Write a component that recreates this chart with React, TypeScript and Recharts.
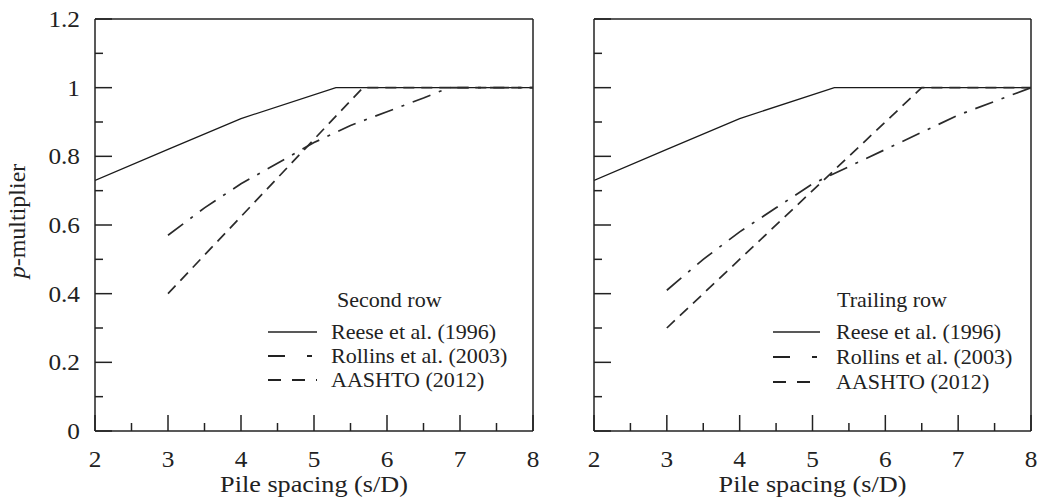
import { LineChart, Line, XAxis, YAxis, ReferenceLine, Legend } from "recharts"

const FONT = '"Liberation Serif", "Times New Roman", serif'
const INK = "#222"
const SX = 1.1

// axis ticks
const xTicks = [2, 2.5, 3, 3.5, 4, 4.5, 5, 5.5, 6, 6.5, 7, 7.5, 8]
const yTicks = [0, 0.1, 0.2, 0.3, 0.4, 0.5, 0.6, 0.7, 0.8, 0.9, 1, 1.1, 1.2]
const yMajor = [0, 0.2, 0.4, 0.6, 0.8, 1, 1.2]

const seriesNames = ["Reese et al. (1996)", "Rollins et al. (2003)", "AASHTO (2012)"]

// second row
const reese2S = [2, 3, 4, 5.3, 8]
const reese2P = [0.73, 0.82, 0.91, 1.0, 1.0]
const rollins2S = [3, 3.5, 4, 4.5, 5, 5.5, 6, 6.5, 6.85, 8]
const rollins2P = [0.57, 0.65, 0.72, 0.78, 0.84, 0.89, 0.93, 0.97, 1.0, 1.0]
const aashto2S = [3, 5.67, 8]
const aashto2P = [0.4, 1.0, 1.0]

// trailing row
const reeseTS = [2, 3, 4, 5.3, 8]
const reeseTP = [0.73, 0.82, 0.91, 1.0, 1.0]
const rollinsTS = [3, 3.5, 4, 4.5, 5, 5.5, 6, 6.5, 7, 7.5, 8]
const rollinsTP = [0.41, 0.5, 0.58, 0.65, 0.72, 0.77, 0.82, 0.87, 0.92, 0.96, 1.0]
const aashtoTS = [3, 6.5, 8]
const aashtoTP = [0.3, 1.0, 1.0]

const toPoints = (s: number[], p: number[]) => s.map((v, i) => ({ s: v, p: p[i] }))

function StretchText({ x, y, anchor = "start", size = 24, sx = SX, children }: any) {
  return (
    <text
      x={0}
      y={0}
      transform={`translate(${x},${y}) scale(${sx},1)`}
      textAnchor={anchor}
      fontSize={size}
      fontFamily={FONT}
      fill={INK}
    >
      {children}
    </text>
  )
}

function XTick({ x, y, payload }: any) {
  const v = payload.value
  const major = Number.isInteger(v)
  return (
    <g>
      <line x1={x} x2={x} y1={y} y2={y - (major ? 16 : 8)} stroke={INK} strokeWidth={1.5} />
      {major && (
        <StretchText x={x} y={y + 36} anchor="middle" size={23}>
          {v}
        </StretchText>
      )}
    </g>
  )
}

function YTick({ x, y, payload, showLabel }: any) {
  const v = payload.value
  const major = yMajor.some((m) => Math.abs(m - v) < 1e-6)
  return (
    <g>
      <line x1={x} x2={x + (major ? 17 : 8)} y1={y} y2={y} stroke={INK} strokeWidth={1.5} />
      {major && showLabel && (
        <StretchText x={x - 15} y={y + 8} anchor="end" size={23}>
          {String(v)}
        </StretchText>
      )}
    </g>
  )
}

function XTitle({ viewBox }: any) {
  return (
    <StretchText x={viewBox.x + viewBox.width / 2} y={viewBox.y + 61} anchor="middle" size={23} sx={1.14}>
      Pile spacing (s/D)
    </StretchText>
  )
}

function YTitle({ viewBox }: any) {
  const x = viewBox.x + 25
  const y = viewBox.y + viewBox.height / 2 - 4
  return (
    <text
      x={x}
      y={y}
      transform={`rotate(-90, ${x}, ${y})`}
      textAnchor="middle"
      fontSize={24}
      fontFamily={FONT}
      fill={INK}
    >
      <tspan fontStyle="italic">p</tspan>-multiplier
    </text>
  )
}

const legendDash = ["", "17 22 5 200", "13 11"]
const plotDash = ["", "19 9 3 9", "11 7"]

function LegendBox({ title, titleX, rowY, lineEnd }: any) {
  return (
    <svg width={230} height={110} style={{ overflow: "visible" }}>
      <StretchText x={titleX} y={22} size={21} sx={1.05}>
        {title}
      </StretchText>
      {seriesNames.map((name, i) => (
        <g key={name}>
          <line
            x1={6}
            x2={lineEnd}
            y1={rowY[i]}
            y2={rowY[i]}
            stroke={INK}
            strokeWidth={i === 0 ? 1.3 : 1.8}
            strokeDasharray={legendDash[i] || undefined}
          />
          <StretchText x={69} y={rowY[i] + 7} size={21} sx={1.05}>
            {name}
          </StretchText>
        </g>
      ))}
    </svg>
  )
}

function Panel({ width, yAxisWidth, rightMargin, showYLabels, series, legend }: any) {
  return (
    <LineChart width={width} height={504} margin={{ top: 19, right: rightMargin, bottom: 0, left: 0 }}>
      <XAxis
        type="number"
        dataKey="s"
        domain={[2, 8]}
        ticks={xTicks}
        interval={0}
        tickSize={0}
        tickMargin={0}
        tickLine={false}
        tick={<XTick />}
        height={73}
        axisLine={{ stroke: INK, strokeWidth: 1.5 }}
        allowDataOverflow
        label={<XTitle />}
      />
      <YAxis
        type="number"
        domain={[0, 1.2]}
        ticks={yTicks}
        interval={0}
        tickSize={0}
        tickMargin={0}
        tickLine={false}
        tick={<YTick showLabel={showYLabels} />}
        width={yAxisWidth}
        axisLine={{ stroke: INK, strokeWidth: 1.5 }}
        allowDataOverflow
        label={showYLabels ? <YTitle /> : undefined}
      />
      <ReferenceLine y={1.2} stroke={INK} strokeWidth={1.5} />
      <ReferenceLine x={8} stroke={INK} strokeWidth={1.5} />
      {series.map((d: any[], i: number) => (
        <Line
          key={seriesNames[i]}
          name={seriesNames[i]}
          data={d}
          dataKey="p"
          type="linear"
          dot={false}
          stroke={i === 0 ? "#1a1a1a" : "#2a2a2a"}
          strokeWidth={i === 0 ? 1.3 : 1.7}
          strokeDasharray={plotDash[i] || undefined}
          isAnimationActive={false}
        />
      ))}
      <Legend
        layout="vertical"
        align="center"
        verticalAlign="middle"
        wrapperStyle={{ left: legend.left, top: 285, width: 230, height: 110 }}
        content={() => <LegendBox {...legend} />}
      />
    </LineChart>
  )
}

export default function App() {
  const second = [toPoints(reese2S, reese2P), toPoints(rollins2S, rollins2P), toPoints(aashto2S, aashto2P)]
  const trailing = [toPoints(reeseTS, reeseTP), toPoints(rollinsTS, rollinsTP), toPoints(aashtoTS, aashtoTP)]
  return (
    <div style={{ position: "absolute", left: 0, top: 0, width: 1042, height: 504, background: "#fff" }}>
      <div style={{ position: "absolute", left: 0, top: 0 }}>
        <Panel
          width={545}
          yAxisWidth={95}
          rightMargin={12}
          showYLabels
          series={second}
          legend={{ left: 262, title: "Second row", titleX: 75, rowY: [47, 71, 95], lineEnd: 55 }}
        />
      </div>
      <div style={{ position: "absolute", left: 545, top: 0 }}>
        <Panel
          width={497}
          yAxisWidth={49}
          rightMargin={11}
          showYLabels={false}
          series={trailing}
          legend={{ left: 222, title: "Trailing row", titleX: 70, rowY: [47, 72, 97], lineEnd: 53 }}
        />
      </div>
    </div>
  )
}
